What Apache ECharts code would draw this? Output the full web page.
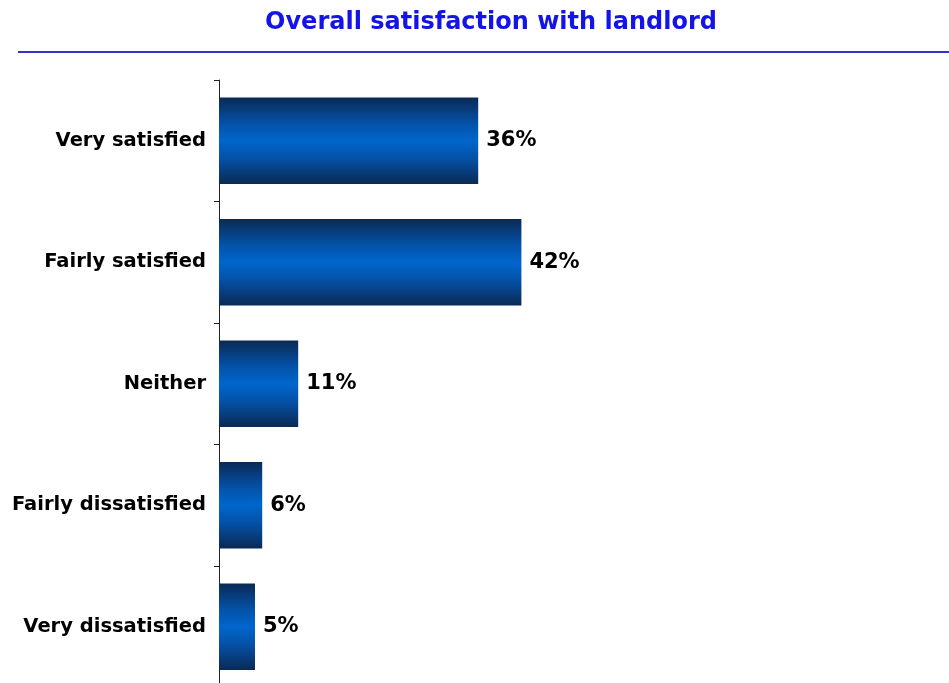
<!DOCTYPE html>
<html>
<head>
<meta charset="utf-8">
<script src="https://cdn.jsdelivr.net/npm/echarts@6/dist/echarts.min.js"></script>
<style>
  html, body { margin: 0; padding: 0; background: #ffffff; overflow: hidden; }
  #chart { width: 949px; height: 683px; }
</style>
</head>
<body>
<div id="chart"></div>
<script>
// Survey answers, top to bottom
const categories = ['Very satisfied', 'Fairly satisfied', 'Neither', 'Fairly dissatisfied', 'Very dissatisfied'];
// Share of respondents, percent
const shares = [36, 42, 11, 6, 5];

const chart = echarts.init(document.getElementById('chart'));

const barFill = new echarts.graphic.LinearGradient(0, 0, 0, 1, [
  { offset: 0, color: '#0a2a55' },
  { offset: 0.3, color: '#0452a8' },
  { offset: 0.5, color: '#0066cc' },
  { offset: 0.7, color: '#0452a8' },
  { offset: 1, color: '#0a2a55' }
]);

chart.setOption({
  animation: false,
  title: {
    text: 'Overall satisfaction with landlord',
    left: 486,
    textAlign: 'center',
    top: 6,
    textStyle: {
      fontFamily: 'DejaVu Sans',
      fontWeight: 'bold',
      fontSize: 24,
      color: '#1414e6'
    }
  },
  graphic: [{
    type: 'line',
    shape: { x1: 18, y1: 52, x2: 949, y2: 52 },
    style: { stroke: '#3333cc', lineWidth: 2 }
  }],
  // the last band runs a little past the bottom edge of the canvas
  grid: { left: 219, right: 10, top: 80, height: 607.5, outerBoundsMode: 'none' },
  xAxis: {
    type: 'value',
    min: 0,
    max: 100,
    show: false
  },
  yAxis: {
    type: 'category',
    data: categories,
    inverse: true,
    axisLine: { show: true, lineStyle: { color: '#222222', width: 1 } },
    axisTick: { show: true, length: 5, lineStyle: { color: '#222222' } },
    axisLabel: {
      margin: 13,
      fontFamily: 'DejaVu Sans',
      fontWeight: 'bold',
      fontSize: 19.5,
      color: '#000000'
    }
  },
  series: [{
    type: 'bar',
    data: shares,
    barCategoryGap: '29%',
    itemStyle: { color: barFill },
    label: {
      show: true,
      position: 'right',
      distance: 8,
      formatter: '{c}%',
      fontFamily: 'DejaVu Sans',
      fontWeight: 'bold',
      fontSize: 21,
      color: '#000000'
    }
  }]
});
</script>
</body>
</html>
